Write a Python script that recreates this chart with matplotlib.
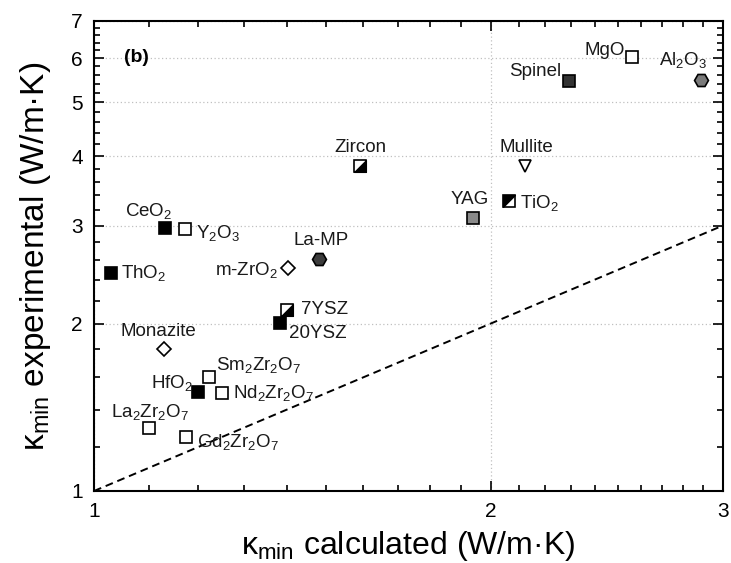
import matplotlib
matplotlib.use('Agg')
import matplotlib.pyplot as plt
from matplotlib.path import Path
from matplotlib.ticker import FixedLocator, FixedFormatter, NullFormatter

plt.rcParams['font.family'] = ['Liberation Sans', 'DejaVu Sans']
plt.rcParams['mathtext.fontset'] = 'custom'
plt.rcParams['mathtext.rm'] = 'Liberation Sans'
plt.rcParams['mathtext.it'] = 'Liberation Sans:italic'
plt.rcParams['mathtext.bf'] = 'Liberation Sans:bold'

# data (kappa_min calculated vs experimental, W/m.K)
names = ['ThO$_\\mathregular{2}$', 'CeO$_\\mathregular{2}$', 'Y$_\\mathregular{2}$O$_\\mathregular{3}$',
         'Monazite', 'La$_\\mathregular{2}$Zr$_\\mathregular{2}$O$_\\mathregular{7}$',
         'Gd$_\\mathregular{2}$Zr$_\\mathregular{2}$O$_\\mathregular{7}$', 'HfO$_\\mathregular{2}$',
         'Sm$_\\mathregular{2}$Zr$_\\mathregular{2}$O$_\\mathregular{7}$',
         'Nd$_\\mathregular{2}$Zr$_\\mathregular{2}$O$_\\mathregular{7}$', 'm-ZrO$_\\mathregular{2}$',
         'La-MP', '7YSZ', '20YSZ', 'Zircon', 'YAG', 'TiO$_\\mathregular{2}$', 'Mullite',
         'Spinel', 'MgO', 'Al$_\\mathregular{2}$O$_\\mathregular{3}$']
k_calc = [1.031, 1.132, 1.172, 1.130, 1.100, 1.174, 1.199, 1.222, 1.250, 1.403,
          1.481, 1.400, 1.384, 1.593, 1.938, 2.066, 2.124, 2.294, 2.561, 2.888]
k_exp = [2.466, 2.971, 2.959, 1.800, 1.298, 1.250, 1.507, 1.603, 1.500, 2.517,
         2.613, 2.116, 2.002, 3.840, 3.100, 3.320, 3.845, 5.467, 6.040, 5.480]
ref_line = [1, 3]

# marker style per point: (marker, face, half-fill)
styles = [('s', 'k', None), ('s', 'k', None), ('s', 'w', None), ('D', 'w', None),
          ('s', 'w', None), ('s', 'w', None), ('s', 'k', None), ('s', 'w', None),
          ('s', 'w', None), ('D', 'w', None), ('H', '#3c3c3c', None), ('s', 'w', 'lr'),
          ('s', 'k', None), ('s', 'w', 'lr'), ('s', '#8a8a8a', None), ('s', 'w', 'ul'),
          ('v', 'w', None), ('s', '#333333', None), ('s', 'w', None), ('H', '#7a7a7a', None)]

# label placement: (dx, dy) in pixels from marker, horizontal alignment
label_pos = [((10, 0), 'left'), ((-16, 17), 'center'), ((11, -4), 'left'), ((-6, 18), 'center'),
             ((1, 16), 'center'), ((11, -5), 'left'), ((-5, 9), 'right'), ((7, 12), 'left'),
             ((11, 0), 'left'), ((-10, -2), 'right'), ((2, 19), 'center'), ((14, 0), 'left'),
             ((9, -10), 'left'), ((0, 19), 'center'), ((-3, 18), 'center'), ((11, -2), 'left'),
             ((1, 18), 'center'), ((-8, 9), 'right'), ((-7, 6), 'right'), ((-18, 20), 'center')]

half_paths = {
    'lr': Path([(-1, -1), (1, -1), (1, 1), (-1, -1)],
               [Path.MOVETO, Path.LINETO, Path.LINETO, Path.CLOSEPOLY]),
    'ul': Path([(-1, -1), (-1, 1), (1, 1), (-1, -1)],
               [Path.MOVETO, Path.LINETO, Path.LINETO, Path.CLOSEPOLY]),
}
sizes = {'s': 8, 'D': 7, 'H': 10, 'v': 9}

fig = plt.figure(figsize=(7.31, 5.63), dpi=100)
ax = fig.add_axes([0.1286, 0.1279, 0.8601, 0.8348])
ax.set_xscale('log')
ax.set_yscale('log')
ax.set_xlim(1, 3)
ax.set_ylim(1, 7)

ax.plot(ref_line, ref_line, color='k', ls=(0, (4, 2.5)), lw=1.4, zorder=2)

for i in range(len(names)):
    m, fc, half = styles[i]
    ax.plot(k_calc[i], k_exp[i], marker=m, ls='none', ms=sizes[m], mfc=fc,
            mec='k', mew=1.2, zorder=3)
    if half:
        ax.plot(k_calc[i], k_exp[i], marker=half_paths[half], ls='none', ms=sizes[m],
                mfc='k', mec='k', mew=0.8, zorder=4)
    (dx, dy), ha = label_pos[i]
    ax.annotate(names[i], (k_calc[i], k_exp[i]), xytext=(dx, dy), textcoords='offset pixels',
                ha=ha, va='center', fontsize=13.5, color='#1a1a1a')

ax.text(0.067, 0.923, '(b)', transform=ax.transAxes, fontsize=14, fontweight='bold',
        ha='center', va='center')

ax.xaxis.set_major_locator(FixedLocator([1, 2, 3]))
ax.xaxis.set_major_formatter(FixedFormatter(['1', '2', '3']))
ax.xaxis.set_minor_locator(FixedLocator([1 + 0.1 * k for k in range(1, 20) if k != 10]))
ax.xaxis.set_minor_formatter(NullFormatter())
ax.yaxis.set_major_locator(FixedLocator([1, 2, 3, 4, 5, 6, 7]))
ax.yaxis.set_major_formatter(FixedFormatter(['1', '2', '3', '4', '5', '6', '7']))
ax.yaxis.set_minor_locator(FixedLocator([1 + 0.2 * k for k in range(1, 30) if k % 5 != 0]))
ax.yaxis.set_minor_formatter(NullFormatter())

ax.tick_params(which='both', direction='in', top=True, right=True, width=1.2,
               labelsize=15, colors='k')
ax.tick_params(which='major', length=7, pad=8)
ax.tick_params(which='minor', length=4)
for s in ax.spines.values():
    s.set_linewidth(1.5)

ax.grid(True, which='major', ls=(0, (1, 2)), color='#c0c0c0', lw=0.9, zorder=0)

ax.set_xlabel('κ$_\\mathregular{min}$ calculated (W/m·K)', fontsize=23, labelpad=6)
ax.set_ylabel('κ$_\\mathregular{min}$ experimental (W/m·K)', fontsize=24, labelpad=13)

fig.savefig('out.png', dpi=100)
